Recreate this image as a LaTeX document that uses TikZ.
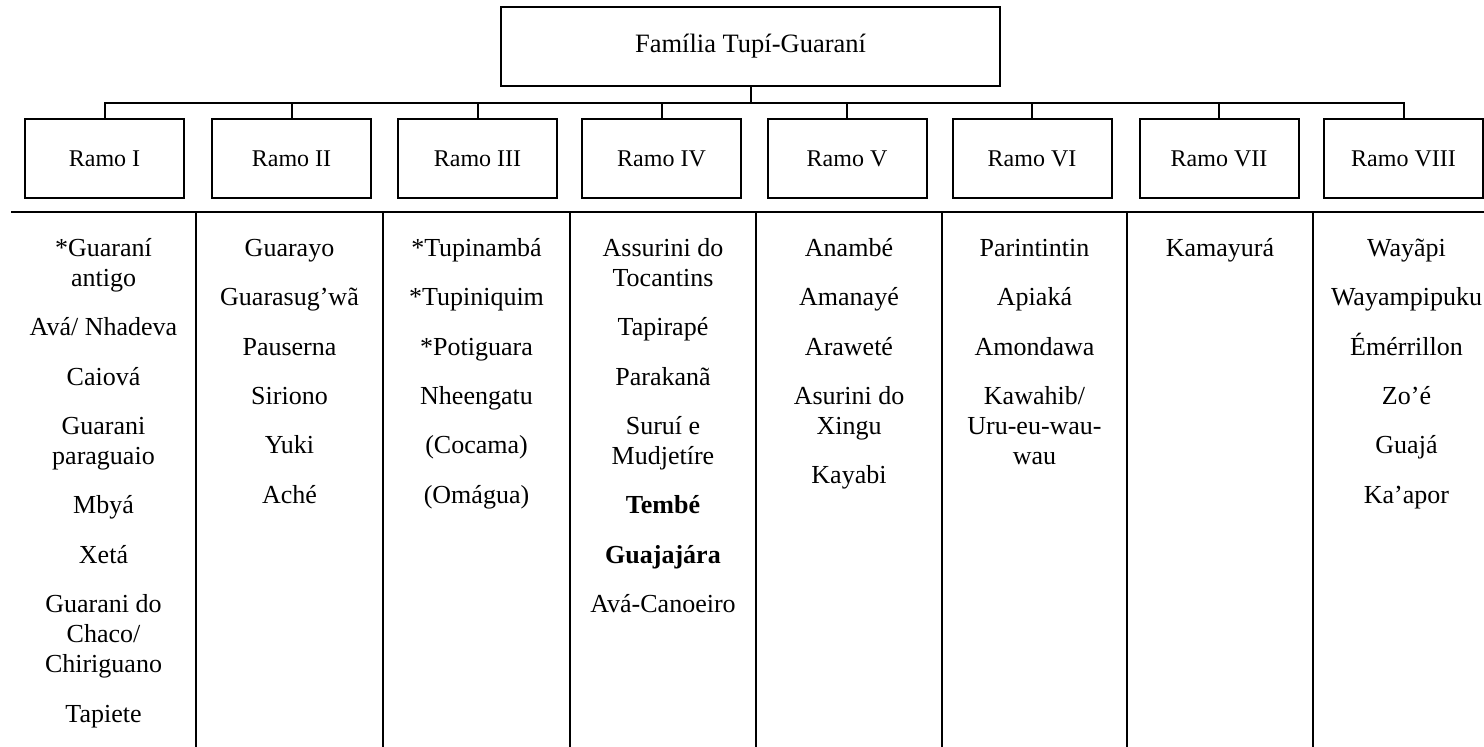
\documentclass[tikz,border=0pt]{standalone}
\usepackage{fontspec}
\setmainfont{Liberation Serif}
\begin{document}
\begin{tikzpicture}[x=0.5pt,y=-0.5pt,
  box/.style={draw, line width=1pt, inner sep=0pt},
  titlebox/.style={box, minimum width=249.5pt, minimum height=39.5pt, font=\fontsize{13.25}{15}\selectfont},
  ramobox/.style={box, minimum width=79.5pt, minimum height=39.5pt, font=\fontsize{12}{14}\selectfont},
  link/.style={line width=1pt},
  rule/.style={line width=1.3pt},
  col/.style={anchor=north, inner sep=0pt, align=center, font=\fontsize{13}{15}\selectfont}
]
\useasboundingbox (0,0) rectangle (1484,747);

% root
\node[titlebox] (root) at (750.5,46.5) {Família Tupí-Guaraní};

% branches
\node[ramobox] (r1) at (104.5,158.5) {Ramo I};
\node[ramobox] (r2) at (291.5,158.5) {Ramo II};
\node[ramobox] (r3) at (477.5,158.5) {Ramo III};
\node[ramobox] (r4) at (661.5,158.5) {Ramo IV};
\node[ramobox] (r5) at (847,158.5) {Ramo V};
\node[ramobox] (r6) at (1032,158.5) {Ramo VI};
\node[ramobox] (r7) at (1219,158.5) {Ramo VII};
\node[ramobox] (r8) at (1403.5,158.5) {Ramo VIII};

% connectors
\coordinate (bar) at (0,103);
\draw[link] (root.south) -- (root.south |- bar);
\draw[link] (r1.north) -- (r1.north |- bar) -- (r8.north |- bar) -- (r8.north);
\foreach \r in {r2,r3,r4,r5,r6,r7}
  \draw[link] (\r.north) -- (\r.north |- bar);

% table lines
\draw[rule] (11,212) -- (1484,212);
\foreach \x in {196,383,570,756,942,1127,1313}
  \draw[rule] (\x,212) -- (\x,747);

% columns
\def\g{\\[9.7pt]}
\node[col] (c1) at (103.5,232) {\rule{0pt}{12pt}*Guaraní\\antigo\g Avá/ Nhadeva\g Caiová\g Guarani\\paraguaio\g Mbyá\g Xetá\g Guarani do\\Chaco/\\Chiriguano\g Tapiete};
\node[col] (c2) at (289.5,232) {\rule{0pt}{12pt}Guarayo\g Guarasug’wã\g Pauserna\g Siriono\g Yuki\g Aché};
\node[col] (c3) at (476.5,232) {\rule{0pt}{12pt}*Tupinambá\g *Tupiniquim\g *Potiguara\g Nheengatu\g (Cocama)\g (Omágua)};
\node[col] (c4) at (663,232) {\rule{0pt}{12pt}Assurini do\\Tocantins\g Tapirapé\g Parakanã\g Suruí e\\Mudjetíre\g \textbf{Tembé}\g \textbf{Guajajára}\g Avá-Canoeiro};
\node[col] (c5) at (849,232) {\rule{0pt}{12pt}Anambé\g Amanayé\g Araweté\g Asurini do\\Xingu\g Kayabi};
\node[col] (c6) at (1034.5,232) {\rule{0pt}{12pt}Parintintin\g Apiaká\g Amondawa\g Kawahib/\\Uru-eu-wau-\\wau};
\node[col] (c7) at (1220,232) {\rule{0pt}{12pt}Kamayurá};
\node[col] (c8) at (1406.5,232) {\rule{0pt}{12pt}Wayãpi\g Wayampipuku\g Émérrillon\g Zo’é\g Guajá\g Ka’apor};
\end{tikzpicture}
\end{document}
